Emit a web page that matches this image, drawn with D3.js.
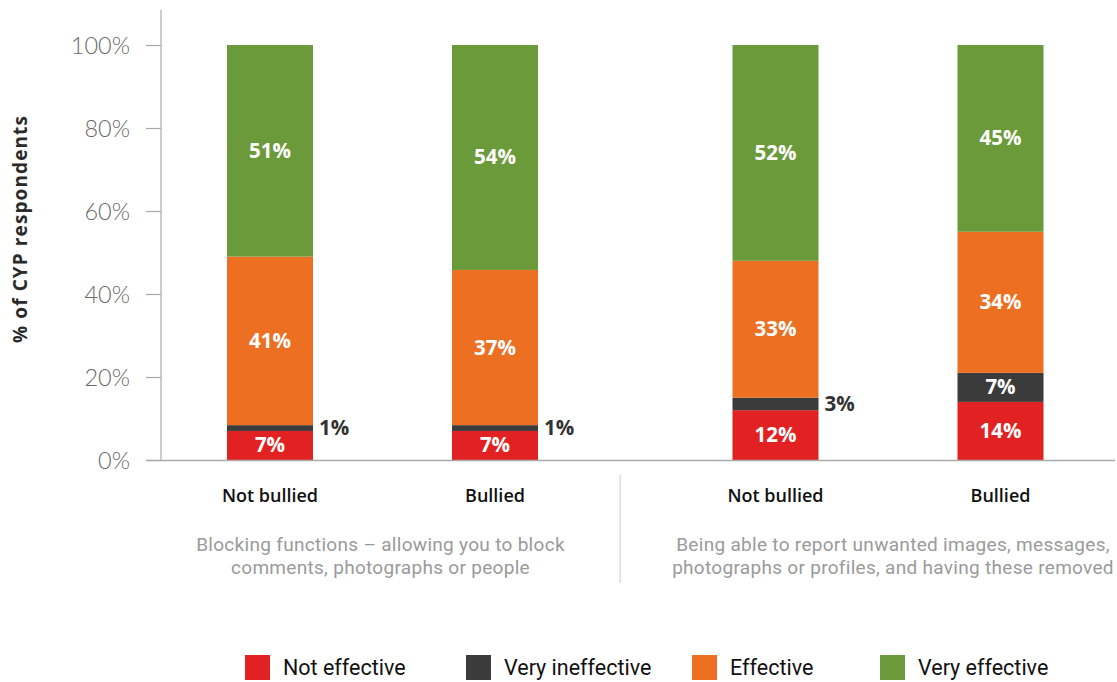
<!DOCTYPE html>
<html><head><meta charset="utf-8">
<script src="https://cdn.jsdelivr.net/npm/d3@7"></script>
<style>body{margin:0;background:#fff}svg{display:block}</style>
</head><body>
<script>
const groups = ["Blocking functions – allowing you to block|comments, photographs or people",
                "Being able to report unwanted images, messages,|photographs or profiles, and having these removed"];
const subgroups = ["Not bullied","Bullied"];
const seriesNames = ["Not effective","Very ineffective","Effective","Very effective"];
const notEffective    = [7.0, 7.0, 12, 14];
const veryIneffective = [1.4, 1.4, 3, 7];
const effective       = [40.6, 37.4, 33, 34];
const veryEffective   = [51.0, 54.2, 52, 45];
const yTicks = [0, 20, 40, 60, 80, 100];
const colors = ["#e22222", "#3b3b3b", "#ec6f22", "#6b9a3a"];

const W = 1117, H = 682;
const svg = d3.select("body").append("svg").attr("width", W).attr("height", H);

const rows = [];
groups.forEach((g, gi) => subgroups.forEach((s, si) => {
  const i = gi * 2 + si;
  rows.push({group: g, sub: s, "Not effective": notEffective[i], "Very ineffective": veryIneffective[i],
             "Effective": effective[i], "Very effective": veryEffective[i]});
}));

const y = d3.scaleLinear().domain([0, 100]).range([460, 45]);
const xg = d3.scalePoint().domain(groups).range([382.5, 888]);
const xs = d3.scalePoint().domain(subgroups).range([-112.5, 112.5]);
const bw = 86;
const cx = d => xg(d.group) + xs(d.sub);

// y axis
const yAxis = d3.axisLeft(y).tickValues(yTicks).tickFormat(d => d + "%").tickSize(15).tickPadding(16);
const ya = svg.append("g").attr("transform", "translate(161,0)").call(yAxis);
ya.select(".domain").remove();
ya.selectAll(".tick line").attr("stroke", "#aaa").attr("stroke-width", 1.2);
ya.selectAll(".tick text").attr("fill", "#6a6a6a").attr("font-family", "Lato, 'Open Sans', sans-serif")
  .attr("font-weight", 300).attr("font-size", 23.5).attr("dy", "0.35em");
svg.append("line").attr("x1", 161).attr("x2", 161).attr("y1", 10).attr("y2", 460).attr("stroke", "#aaa").attr("stroke-width", 1.2);

svg.append("text").attr("transform", "translate(27,229) rotate(-90)").attr("text-anchor", "middle")
  .attr("font-family", "'Open Sans', sans-serif").attr("font-weight", 700).attr("font-size", 19)
  .attr("letter-spacing", 1.1).attr("fill", "#2a2a2a").text("% of CYP respondents");

// stacks
const stack = d3.stack().keys(seriesNames)(rows);
stack.forEach((layer, li) => {
  svg.append("g").selectAll("rect").data(layer).join("rect")
    .attr("x", d => cx(d.data) - bw / 2).attr("width", bw)
    .attr("y", d => y(d[1])).attr("height", d => y(d[0]) - y(d[1]))
    .attr("fill", colors[li]);
  svg.append("g").selectAll("text").data(layer).join("text")
    .attr("x", d => (d[1] - d[0]) < 5 ? cx(d.data) + bw / 2 + 6 : cx(d.data))
    .attr("y", d => (y(d[0]) + y(d[1])) / 2 + 7)
    .attr("text-anchor", d => (d[1] - d[0]) < 5 ? "start" : "middle")
    .attr("fill", d => (d[1] - d[0]) < 5 ? "#333" : "#fff")
    .attr("font-family", "'Open Sans', sans-serif").attr("font-weight", 700).attr("font-size", 20.5)
    .text(d => Math.round(d[1] - d[0]) + "%");
});

// baseline
svg.append("line").attr("x1", 146).attr("x2", 1115).attr("y1", 460.5).attr("y2", 460.5).attr("stroke", "#aaa").attr("stroke-width", 1.5);

// sub labels
svg.append("g").selectAll("text").data(rows).join("text")
  .attr("x", d => cx(d)).attr("y", 502).attr("text-anchor", "middle")
  .attr("font-family", "'Open Sans', sans-serif").attr("font-weight", 600).attr("font-size", 18)
  .attr("fill", "#111").text(d => d.sub);

// group labels
groups.forEach((g, gi) => {
  const lines = g.split("|");
  const t = svg.append("text").attr("text-anchor", "middle")
    .attr("font-family", "Roboto, 'Open Sans', sans-serif").attr("font-size", 19).attr("fill", "#9a9a9a")
    .attr("letter-spacing", 0.3);
  lines.forEach((l, li) => t.append("tspan").attr("x", xg(g) + (gi ? 5 : -2)).attr("y", 551 + li * 22.5).text(l));
});
svg.append("line").attr("x1", (xg(groups[0]) + xg(groups[1])) / 2 - 15).attr("x2", (xg(groups[0]) + xg(groups[1])) / 2 - 15)
  .attr("y1", 475).attr("y2", 583).attr("stroke", "#ddd").attr("stroke-width", 1.5);

// legend
const legX = d3.scaleOrdinal().domain(seriesNames).range([245, 466, 692, 880]);
const leg = svg.append("g").selectAll("g").data(seriesNames).join("g")
  .attr("transform", d => `translate(${legX(d)},655)`);
leg.append("rect").attr("width", 25).attr("height", 25).attr("fill", (d, i) => colors[i]);
leg.append("text").attr("x", 38).attr("y", 20)
  .attr("font-family", "'Liberation Sans Narrow', 'Roboto', sans-serif").attr("font-size", 21.5).attr("fill", "#111")
  .text(d => d);
</script>
</body></html>
